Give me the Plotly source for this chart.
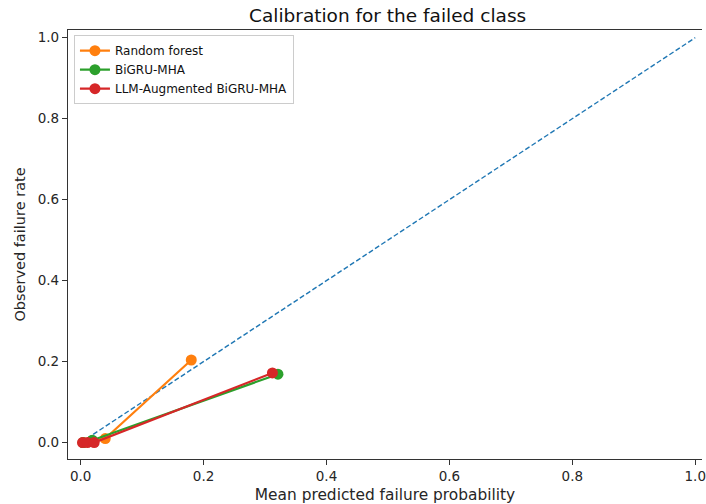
import plotly.graph_objects as go

# ---- data ----
rf_x = [0.004, 0.040, 0.180]
rf_y = [0.000, 0.010, 0.204]
bigru_x = [0.004, 0.019, 0.321]
bigru_y = [0.000, 0.006, 0.169]
llm_x = [0.003, 0.011, 0.022, 0.312]
llm_y = [0.000, 0.000, 0.000, 0.172]
diag = [0.0, 1.0]
tick_vals = [0.0, 0.2, 0.4, 0.6, 0.8, 1.0]

FONT = "DejaVu Sans"
TXT = "#262626"

fig = go.Figure()
fig.add_trace(go.Scatter(x=diag, y=diag, mode="lines", showlegend=False,
                         line=dict(color="#1f77b4", width=1.4, dash="5px,2.5px")))
fig.add_trace(go.Scatter(x=rf_x, y=rf_y, mode="lines+markers", name="Random forest",
                         line=dict(color="#ff7f0e", width=2.2),
                         marker=dict(color="#ff7f0e", size=11)))
fig.add_trace(go.Scatter(x=bigru_x, y=bigru_y, mode="lines+markers", name="BiGRU-MHA",
                         line=dict(color="#2ca02c", width=2.2),
                         marker=dict(color="#2ca02c", size=11)))
fig.add_trace(go.Scatter(x=llm_x, y=llm_y, mode="lines+markers", name="LLM-Augmented BiGRU-MHA",
                         line=dict(color="#d62728", width=2.2),
                         marker=dict(color="#d62728", size=11)))

fig.update_layout(
    width=706, height=504,
    margin=dict(l=68, r=0, t=30, b=45),
    paper_bgcolor="white", plot_bgcolor="white",
    font=dict(family=FONT, color=TXT, size=13),
    title=dict(text="Calibration for the failed class", x=0.549, xanchor="center",
               y=0.970, yanchor="middle", yref="container",
               font=dict(family=FONT, size=18.5, color="#111")),
    showlegend=True,
    legend=dict(x=0.0094, y=0.988, xanchor="left", yanchor="top",
                bgcolor="rgba(255,255,255,0.8)", bordercolor="#cccccc", borderwidth=1,
                font=dict(family=FONT, size=12, color="#111"),
                itemwidth=30, tracegroupgap=0),
)
fig.update_xaxes(range=[-0.0206, 1.011], tickvals=tick_vals, tickformat=".1f",
                 showgrid=False, zeroline=False, showline=True, linecolor="#333",
                 linewidth=1.2, mirror=True, ticks="outside", ticklen=5, tickwidth=1,
                 tickcolor="#333", tickfont=dict(size=13.5), ticklabeloverflow="allow",
                 title=dict(text="Mean predicted failure probability",
                            font=dict(size=15.4), standoff=6))
fig.update_yaxes(range=[-0.0405, 1.019], tickvals=tick_vals, tickformat=".1f",
                 showgrid=False, zeroline=False, showline=True, linecolor="#333",
                 linewidth=1.2, mirror=False, ticks="outside", ticklen=5, tickwidth=1,
                 tickcolor="#333", tickfont=dict(size=13.5),
                 title=dict(text="Observed failure rate", font=dict(size=14.5), standoff=8))

fig.write_html("out.html")
